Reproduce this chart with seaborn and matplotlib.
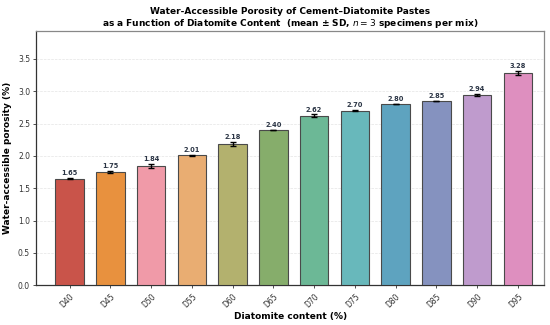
import matplotlib
matplotlib.use('Agg')
import matplotlib.pyplot as plt
import seaborn as sns
import pandas as pd

mixes = ['D40', 'D45', 'D50', 'D55', 'D60', 'D65', 'D70', 'D75', 'D80', 'D85', 'D90', 'D95']
porosity = [1.65, 1.75, 1.84, 2.01, 2.18, 2.40, 2.62, 2.70, 2.80, 2.85, 2.94, 3.28]
sd = [0.01, 0.01, 0.03, 0.01, 0.03, 0.005, 0.02, 0.005, 0.005, 0.005, 0.02, 0.03]
colors = ['#c9544a', '#e8913e', '#f09aa8', '#e9ad72', '#b3b16e', '#86ad6b',
          '#6cb896', '#68b8bb', '#5ea3bf', '#8592bf', '#bf9bcd', '#de8fbf']


def main():
    df = pd.DataFrame({'Mix': mixes, 'Porosity': porosity, 'SD': sd})

    sns.set_style('white')
    plt.rcParams['font.family'] = ['DejaVu Sans']
    fig, ax = plt.subplots(figsize=(5.5, 3.25), dpi=100)

    sns.barplot(data=df, x='Mix', y='Porosity', hue='Mix', palette=colors,
                saturation=1, legend=False, width=0.7, edgecolor='#4a4a4a',
                linewidth=0.8, ax=ax, zorder=3)
    ax.errorbar(range(len(mixes)), df['Porosity'], yerr=df['SD'], fmt='none',
                ecolor='black', elinewidth=1.0, capsize=2.5, capthick=1.0, zorder=4)

    for i, v in enumerate(porosity):
        ax.text(i, v + sd[i] + 0.03, f'{v:.2f}', ha='center', va='bottom',
                fontsize=4.8, fontweight='bold', color='#2b3545')

    ax.set_ylim(0, 3.936)
    ax.set_xlim(-0.82, 11.64)
    ax.yaxis.grid(True, linestyle='--', linewidth=0.5, color='#e4e4e4', zorder=0)
    for s in ax.spines.values():
        s.set_color('#888888')
        s.set_linewidth(0.9)
    ax.spines['left'].set_color('#333333')
    ax.spines['bottom'].set_color('#333333')

    ax.tick_params(axis='both', labelsize=5.5, length=2.5, width=0.6, color='#333333',
                   labelcolor='#333333', left=True, bottom=True, pad=2)
    plt.setp(ax.get_xticklabels(), rotation=45, ha='right', rotation_mode='anchor')
    ax.set_xlabel('Diatomite content (%)', fontsize=6.5, fontweight='bold',
                  labelpad=2, color='black')
    ax.set_ylabel('Water-accessible porosity (%)', fontsize=6.5, fontweight='bold',
                  labelpad=4, color='black')
    ax.set_title('Water-Accessible Porosity of Cement\u2013Diatomite Pastes\n'
                 'as a Function of Diatomite Content  (mean \u00b1 SD, $n = 3$ specimens per mix)',
                 fontsize=6.5, fontweight='bold', pad=3, color='black')

    fig.subplots_adjust(left=0.066, right=0.989, top=0.906, bottom=0.122)
    fig.savefig('out.png', dpi=100)
    plt.close(fig)


if __name__ == '__main__':
    main()
